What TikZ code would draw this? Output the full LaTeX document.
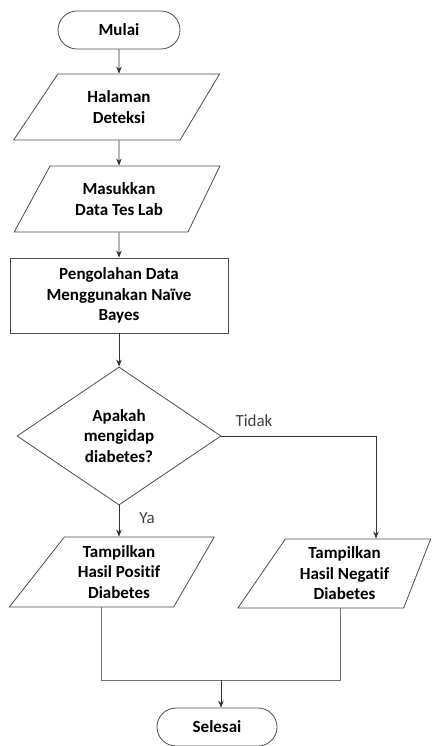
\documentclass[tikz,border=0pt]{standalone}
\usepackage{fontspec}
\setmainfont[Ligatures=NoCommon]{Carlito}
\usetikzlibrary{arrows.meta,positioning,calc,shapes.geometric,shapes.misc}

\begin{document}
\begin{tikzpicture}[x=1pt,y=1pt,>={Stealth[length=7pt,width=5.5pt]},
  font=\fontsize{17}{20.5}\selectfont\bfseries,
  term/.style={rounded rectangle,draw=black!70,line width=0.8pt,minimum width=122pt,minimum height=38pt,inner sep=0pt},
  io/.style={trapezium,trapezium left angle=55,trapezium right angle=122,trapezium stretches=true,
    draw=black!70,line width=0.8pt,align=center,inner sep=0pt,minimum width=206pt,minimum height=66pt},
  proc/.style={rectangle,draw=black!70,line width=0.8pt,align=center,minimum width=218pt,minimum height=75pt,inner sep=0pt},
  dec/.style={diamond,draw=black!70,line width=0.8pt,align=center,aspect=1.48,minimum width=204pt,minimum height=138pt,inner sep=0pt},
  flow/.style={->,line width=0.8pt,black!80},
  merge/.style={line width=0.8pt,black!55},
  lbl/.style={font=\fontsize{17}{20.5}\selectfont\mdseries,black!75},
]

\useasboundingbox (0,0) rectangle (441,-746);

\node[term] (start) at (119,-30) {Mulai};
\node[io] (page) at (119,-107) {Halaman\\Deteksi};
\node[io] (input) at (119,-199) {Masukkan\\Data Tes Lab};
\node[proc] (nb) at (119,-295.5) {Pengolahan Data\\Menggunakan Naïve\\Bayes};
\node[dec] (ask) at (119,-436) {Apakah\\mengidap\\diabetes?};
\node[io,trapezium left angle=52,trapezium right angle=120,minimum width=205pt,minimum height=70pt]
  (pos) at (119,-572) {Tampilkan\\Hasil Positif\\Diabetes};
\node[io,trapezium left angle=56,trapezium right angle=111,minimum width=193pt,minimum height=69pt]
  (neg) at (344.5,-573.5) {Tampilkan\\Hasil Negatif\\Diabetes};
\node[term,minimum width=120pt] (end) at (217,-727) {Selesai};

\node[lbl] (no) at (254,-421) {Tidak};
\node[lbl] (yes) at (147,-518) {Ya};

\draw[flow] (start) -- (page);
\draw[flow] (page) -- (input);
\draw[flow] (input) -- (nb);
\draw[flow] (nb) -- (ask);
\draw[flow] (ask) -- (pos);

\coordinate (turn) at (376,-436);
\draw[flow] (ask.east) -- (turn) -- (turn |- neg.north);

% both results meet before the end
\coordinate (join) at (221,-680);
\draw[merge] ($(pos.bottom left corner)!0.56!(pos.bottom right corner)$) |- (join);
\draw[merge] ($(neg.bottom left corner)!0.62!(neg.bottom right corner)$) |- (join);
\draw[flow] (join) -- (join |- end.north);

\end{tikzpicture}
\end{document}
